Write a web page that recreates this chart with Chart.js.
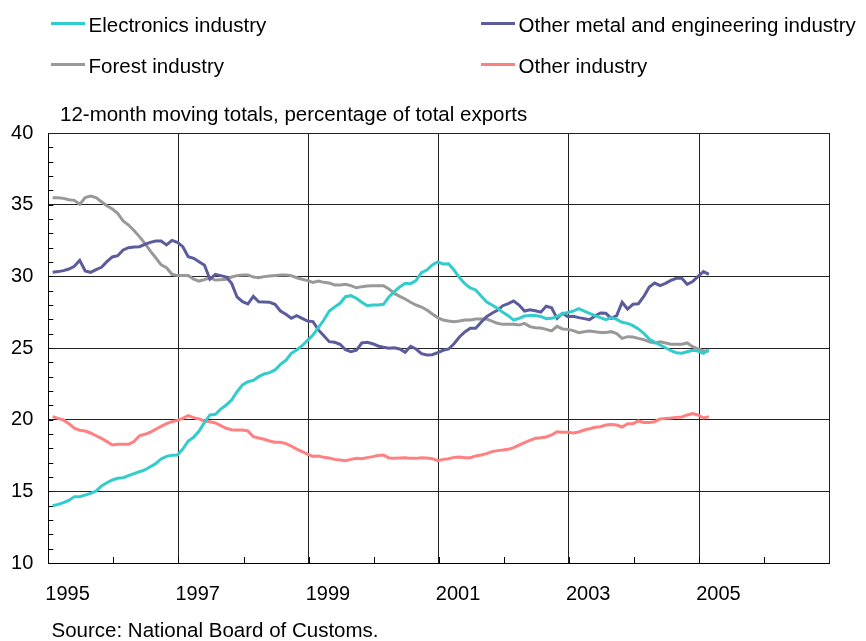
<!DOCTYPE html>
<html>
<head>
<meta charset="utf-8">
<script src="https://cdn.jsdelivr.net/npm/chart.js@4.4.1/dist/chart.umd.min.js"></script>
<style>
  html, body { margin: 0; padding: 0; background: #fff; }
  #wrap { position: relative; width: 866px; height: 641px; font-family: 'Liberation Sans', Arial, sans-serif; color: #000; }
  #c { position: absolute; left: 0; top: 0; }
  .txt { position: absolute; font-size: 20.5px; line-height: 20.5px; white-space: nowrap; }
  .swatch { position: absolute; width: 34px; height: 3px; }
</style>
</head>
<body>
<div id="wrap">
  <canvas id="c" width="866" height="641"></canvas>
  <div class="txt" id="subtitle" style="left:60px; top:104px;"></div>
  <div class="txt" id="source" style="left:51.5px; top:620px;"></div>
</div>
<script>
// Monthly series, January 1995 onwards (12-month moving totals, % of total exports)
const startYear = 1995;
const electronics = [
  14.0, 14.09, 14.21, 14.37, 14.63, 14.63, 14.74, 14.86, 15.02, 15.37,
  15.6, 15.79, 15.91, 15.95, 16.09, 16.23, 16.37, 16.49, 16.72, 16.93,
  17.26, 17.44, 17.51, 17.53, 17.95, 18.51, 18.77, 19.21, 19.81, 20.33,
  20.37, 20.74, 21.02, 21.37, 21.95, 22.42, 22.65, 22.74, 23.0, 23.19,
  23.28, 23.47, 23.86, 24.14, 24.63, 24.86, 25.16, 25.53, 25.91, 26.42,
  26.95, 27.58, 27.86, 28.12, 28.58, 28.65, 28.47, 28.19, 27.95, 28.0,
  28.0, 28.05, 28.56, 28.93, 29.26, 29.51, 29.49, 29.7, 30.26, 30.44,
  30.79, 31.0, 30.86, 30.88, 30.44, 29.91, 29.49, 29.19, 29.05, 28.63,
  28.23, 28.0, 27.77, 27.49, 27.26, 26.95, 27.07, 27.23, 27.26, 27.26,
  27.2, 27.05, 27.07, 27.19, 27.4, 27.47, 27.58, 27.74, 27.58, 27.42,
  27.26, 27.12, 26.98, 27.12, 27.0, 26.79, 26.72, 26.56, 26.33, 26.02,
  25.63, 25.4, 25.21, 25.02, 24.81, 24.67, 24.63, 24.74, 24.84, 24.79,
  24.63, 24.88
];
const metalEngineering = [
  30.28, 30.33, 30.4, 30.51, 30.7, 31.12, 30.37, 30.28, 30.47, 30.63,
  31.02, 31.35, 31.44, 31.84, 32.0, 32.05, 32.07, 32.23, 32.37, 32.47,
  32.47, 32.19, 32.51, 32.37, 32.07, 31.37, 31.26, 31.02, 30.77, 29.8,
  30.14, 30.05, 29.95, 29.51, 28.56, 28.23, 28.07, 28.6, 28.23, 28.21,
  28.19, 28.05, 27.58, 27.35, 27.07, 27.26, 27.07, 26.88, 26.84, 26.26,
  25.86, 25.44, 25.4, 25.26, 24.88, 24.74, 24.84, 25.35, 25.4, 25.3,
  25.14, 25.05, 24.98, 25.02, 24.93, 24.7, 25.12, 24.93, 24.6, 24.51,
  24.53, 24.67, 24.84, 24.93, 25.3, 25.77, 26.12, 26.37, 26.37, 26.79,
  27.19, 27.42, 27.63, 27.95, 28.09, 28.28, 28.0, 27.58, 27.67, 27.6,
  27.5, 27.91, 27.81, 27.07, 27.42, 27.19, 27.21, 27.12, 27.05, 26.98,
  27.23, 27.44, 27.42, 27.07, 27.26, 28.19, 27.72, 28.05, 28.09, 28.6,
  29.26, 29.53, 29.35, 29.51, 29.72, 29.86, 29.86, 29.44, 29.63, 30.0,
  30.33, 30.14
];
const forest = [
  35.49, 35.49, 35.44, 35.35, 35.3, 35.02, 35.49, 35.6, 35.49, 35.2,
  34.93, 34.7, 34.4, 33.86, 33.58, 33.2, 32.77, 32.3, 31.77, 31.3,
  30.8, 30.6, 30.14, 30.05, 30.05, 30.05, 29.8, 29.67, 29.77, 29.9,
  29.74, 29.77, 29.8, 29.95, 30.05, 30.1, 30.1, 29.95, 29.9, 29.98,
  30.02, 30.05, 30.1, 30.1, 30.05, 29.9, 29.8, 29.7, 29.58, 29.67,
  29.58, 29.53, 29.4, 29.4, 29.44, 29.35, 29.2, 29.28, 29.33, 29.35,
  29.35, 29.35, 29.12, 28.81, 28.6, 28.42, 28.19, 28.0, 27.86, 27.65,
  27.37, 27.12, 26.95, 26.88, 26.84, 26.88, 26.95, 26.95, 27.02, 27.02,
  27.02, 26.88, 26.72, 26.65, 26.65, 26.65, 26.6, 26.72, 26.49, 26.42,
  26.4, 26.3, 26.19, 26.51, 26.33, 26.3, 26.21, 26.07, 26.14, 26.19,
  26.14, 26.09, 26.09, 26.14, 26.0, 25.67, 25.79, 25.77, 25.67, 25.58,
  25.44, 25.35, 25.44, 25.35, 25.26, 25.26, 25.26, 25.35, 25.09, 24.93,
  24.79, 24.79
];
const otherIndustry = [
  20.21, 20.09, 19.98, 19.72, 19.4, 19.26, 19.21, 19.07, 18.88, 18.7,
  18.47, 18.23, 18.28, 18.28, 18.28, 18.47, 18.88, 18.98, 19.12, 19.33,
  19.53, 19.72, 19.86, 19.95, 20.09, 20.28, 20.14, 20.05, 19.91, 19.85,
  19.77, 19.58, 19.4, 19.3, 19.28, 19.28, 19.21, 18.81, 18.72, 18.63,
  18.51, 18.42, 18.42, 18.33, 18.16, 17.95, 17.77, 17.6, 17.44, 17.47,
  17.37, 17.33, 17.23, 17.19, 17.14, 17.23, 17.3, 17.28, 17.35, 17.42,
  17.5, 17.53, 17.33, 17.3, 17.33, 17.35, 17.3, 17.3, 17.35, 17.33,
  17.28, 17.14, 17.23, 17.28, 17.37, 17.4, 17.35, 17.35, 17.47, 17.53,
  17.63, 17.77, 17.84, 17.88, 17.93, 18.05, 18.23, 18.4, 18.56, 18.7,
  18.74, 18.79, 18.93, 19.16, 19.12, 19.12, 19.07, 19.14, 19.28, 19.37,
  19.47, 19.51, 19.63, 19.67, 19.63, 19.49, 19.72, 19.72, 19.91, 19.81,
  19.81, 19.86, 20.05, 20.09, 20.12, 20.16, 20.19, 20.33, 20.42, 20.33,
  20.12, 20.21
];

const seriesNames = ['Electronics industry', 'Other metal and engineering industry', 'Forest industry', 'Other industry'];
const seriesColors = ['#33CCCC', '#5C5C9C', '#999999', '#FF8080'];
const seriesValues = [electronics, metalEngineering, forest, otherIndustry];

const xRange = [1995, 2007];
const yRange = [10, 40];
const yearLabels = [1995, 1997, 1999, 2001, 2003, 2005];
const subtitleText = '12-month moving totals, percentage of total exports';
const sourceText = 'Source: National Board of Customs.';

document.getElementById('subtitle').textContent = subtitleText;
document.getElementById('source').textContent = sourceText;

// Legend: two rows, two columns
const wrap = document.getElementById('wrap');
const legendSlots = [[51, 15], [481, 15], [51, 56], [481, 56]];
seriesNames.forEach((name, k) => {
  const [lx, ty] = legendSlots[k];
  const sw = document.createElement('div');
  sw.className = 'swatch';
  sw.style.left = lx + 'px';
  sw.style.top = (ty + 7) + 'px';
  sw.style.background = seriesColors[k];
  wrap.appendChild(sw);
  const t = document.createElement('div');
  t.className = 'txt';
  t.style.left = (lx + 37.5) + 'px';
  t.style.top = ty + 'px';
  t.textContent = name;
  wrap.appendChild(t);
});

// Each monthly value sits just before the end of its month
const toPoints = (vals) => vals.map((v, i) => ({ x: startYear + (i + 0.8) / 12, y: v }));

// Short inward tick marks: every unit on the value axis, every year on the time axis
const minorTicks = {
  id: 'minorTicks',
  beforeDatasetsDraw(chart) {
    const { ctx, chartArea: a, scales: { x, y } } = chart;
    ctx.save();
    ctx.strokeStyle = '#000';
    ctx.lineWidth = 1;
    ctx.beginPath();
    for (let v = yRange[0] + 1; v < yRange[1]; v++) {
      const py = Math.round(y.getPixelForValue(v)) + 0.5;
      ctx.moveTo(a.left, py);
      ctx.lineTo(a.left + 5, py);
    }
    for (let yr = xRange[0] + 1; yr < xRange[1]; yr++) {
      const px = Math.round(x.getPixelForValue(yr)) + 0.5;
      ctx.moveTo(px, a.bottom);
      ctx.lineTo(px, a.bottom - 6);
    }
    ctx.stroke();
    ctx.restore();
  }
};

const FONT = "'Liberation Sans', Arial, sans-serif";

new Chart(document.getElementById('c'), {
  type: 'line',
  data: {
    datasets: seriesValues.map((vals, k) => ({
      label: seriesNames[k],
      data: toPoints(vals),
      borderColor: seriesColors[k],
      backgroundColor: seriesColors[k],
      borderWidth: 3,
      pointRadius: 0,
      tension: 0,
      fill: false
    }))
  },
  options: {
    responsive: false,
    animation: false,
    devicePixelRatio: 1,
    layout: { padding: { top: 133, right: 36.7, bottom: 0, left: 0 } },
    plugins: { legend: { display: false }, tooltip: { enabled: false }, title: { display: false } },
    scales: {
      x: {
        type: 'linear',
        min: xRange[0],
        max: xRange[1],
        afterFit: (s) => { s.height = 78; },
        border: { display: true, color: '#000', width: 1 },
        grid: {
          drawTicks: false,
          lineWidth: 1,
          color: (c) => {
            const v = c.tick && c.tick.value;
            return (v % 2 === 1 || v === xRange[1]) ? '#222' : 'rgba(0,0,0,0)';
          }
        },
        ticks: {
          stepSize: 1,
          autoSkip: false,
          maxRotation: 0,
          align: 'start',
          labelOffset: -3,
          padding: 19,
          color: '#000',
          font: { family: FONT, size: 20 },
          callback: (v) => yearLabels.includes(v) ? String(v) : ''
        }
      },
      y: {
        min: yRange[0],
        max: yRange[1],
        afterFit: (s) => { s.width = 48.3; },
        border: { display: true, color: '#000', width: 1 },
        grid: {
          drawTicks: false,
          lineWidth: 1,
          color: (c) => (c.tick && c.tick.value % 5 === 0) ? '#222' : 'rgba(0,0,0,0)'
        },
        ticks: {
          stepSize: 1,
          autoSkip: false,
          padding: 15,
          color: '#000',
          font: { family: FONT, size: 20 },
          callback: (v) => (v % 5 === 0) ? String(v) : ''
        }
      }
    }
  },
  plugins: [minorTicks]
});
</script>
</body>
</html>
